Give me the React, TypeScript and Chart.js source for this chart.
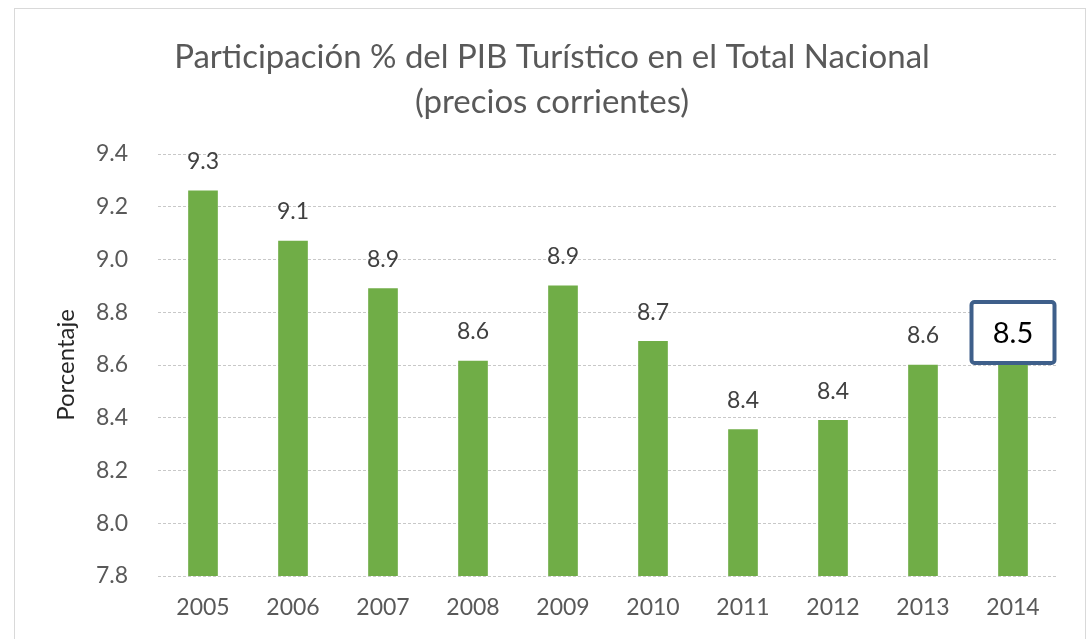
import React, { useEffect, useRef } from "react";
import { Chart, registerables } from "chart.js";

Chart.register(...registerables);

const years = ["2005", "2006", "2007", "2008", "2009", "2010", "2011", "2012", "2013", "2014"];
const values = [9.26, 9.07, 8.89, 8.615, 8.9, 8.69, 8.355, 8.39, 8.6, 8.6];
const labelTexts = ["9.3", "9.1", "8.9", "8.6", "8.9", "8.7", "8.4", "8.4", "8.6", "8.5"];
const highlightIndex = 9;
const titleLines = ["Participación % del PIB Turístico en el Total Nacional", "(precios corrientes)"];
const yAxisTitle = "Porcentaje";
const yMin = 7.8;
const yMax = 9.4;
const yStep = 0.2;

const FONT = "Lato, 'Open Sans', sans-serif";

const decorPlugin = {
  id: "decor",
  beforeDraw(chart: any) {
    const ctx = chart.ctx;
    ctx.save();
    ctx.fillStyle = "#ffffff";
    ctx.fillRect(0, 0, chart.width, chart.height);
    ctx.strokeStyle = "#d9d9d9";
    ctx.lineWidth = 1;
    ctx.strokeRect(14.5, 8.5, 1071, 660);
    ctx.restore();
  },
  afterDatasetsDraw(chart: any) {
    const ctx = chart.ctx;
    const meta = chart.getDatasetMeta(0);
    ctx.save();
    meta.data.forEach((bar: any, i: number) => {
      if (i === highlightIndex) {
        const w = 83;
        const h = 61;
        const bx = bar.x - w / 2;
        const by = bar.y - 2 - h;
        ctx.fillStyle = "#ffffff";
        ctx.strokeStyle = "#3E5F8A";
        ctx.lineWidth = 4;
        ctx.beginPath();
        if (ctx.roundRect) ctx.roundRect(bx, by, w, h, 3);
        else ctx.rect(bx, by, w, h);
        ctx.fill();
        ctx.stroke();
        ctx.fillStyle = "#000000";
        ctx.font = `29px ${FONT}`;
        ctx.textAlign = "center";
        ctx.textBaseline = "middle";
        ctx.fillText(labelTexts[i], bar.x, by + h / 2 + 1);
      } else {
        ctx.fillStyle = "#404040";
        ctx.font = `23px ${FONT}`;
        ctx.textAlign = "center";
        ctx.textBaseline = "middle";
        ctx.fillText(labelTexts[i], bar.x, bar.y - 29);
      }
    });
    ctx.restore();
  },
};

export default function App() {
  const ref = useRef<HTMLCanvasElement | null>(null);
  useEffect(() => {
    if (!ref.current) return;
    const chart = new Chart(ref.current, {
      type: "bar",
      data: {
        labels: years,
        datasets: [
          {
            data: values,
            backgroundColor: "#70AD47",
            borderWidth: 0,
            barThickness: 29,
          },
        ],
      },
      options: {
        animation: false,
        responsive: false,
        layout: { padding: { left: 46, right: 33, top: 0, bottom: 0 } },
        plugins: {
          legend: { display: false },
          tooltip: { enabled: false },
          title: {
            display: true,
            text: titleLines,
            color: "#595959",
            font: { family: FONT, size: 33, weight: "normal", lineHeight: 45 / 33 },
            padding: { top: 35, bottom: 29 },
          },
        },
        scales: {
          x: {
            grid: { display: false, drawTicks: false },
            border: { display: false },
            ticks: {
              color: "#595959",
              font: { family: FONT, size: 23 },
              padding: 18,
              maxRotation: 0,
            },
            afterFit(scale: any) {
              scale.height = 63;
            },
          },
          y: {
            min: yMin,
            max: yMax,
            grid: { color: "#c8c8c8", drawTicks: false, lineWidth: 1 },
            border: { display: false, dash: [3, 2] },
            ticks: {
              stepSize: yStep,
              color: "#595959",
              font: { family: FONT, size: 23 },
              padding: 30,
              callback: (v: any) => Number(v).toFixed(1),
            },
            title: {
              display: true,
              text: yAxisTitle,
              color: "#262626",
              font: { family: FONT, size: 24 },
              padding: { top: 6, bottom: 0 },
            },
            afterFit(scale: any) {
              scale.width = 112;
            },
          },
        },
      },
      plugins: [decorPlugin],
    });
    return () => chart.destroy();
  }, []);
  return (
    <div style={{ position: "fixed", left: 0, top: 0, width: 1091, height: 639, background: "#fff" }}>
      <canvas ref={ref} width={1091} height={639} style={{ display: "block" }} />
    </div>
  );
}
